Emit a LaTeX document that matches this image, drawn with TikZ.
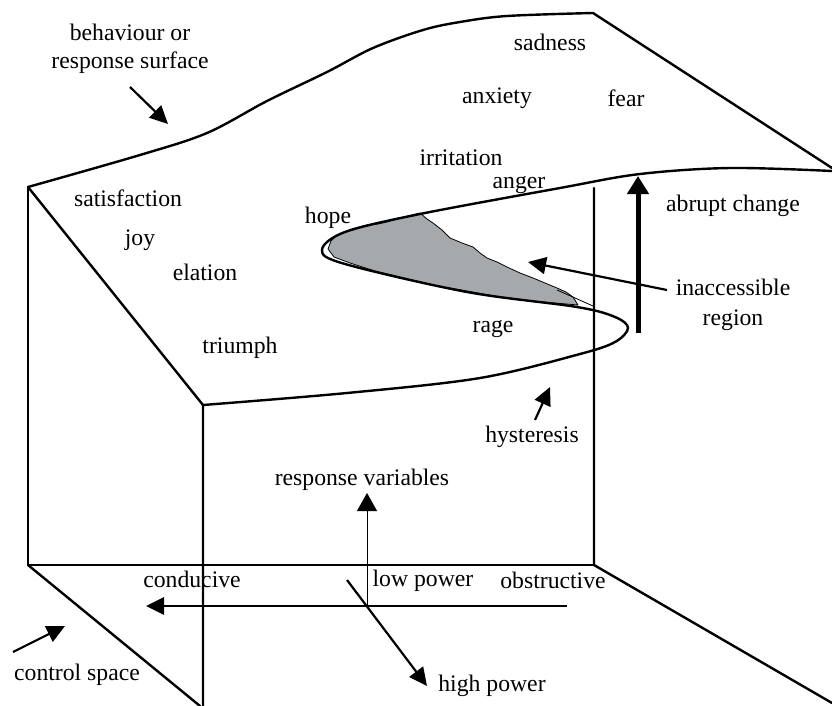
\documentclass[tikz,border=0pt]{standalone}
\usepackage{fontspec}
\setmainfont{Liberation Serif}
\usetikzlibrary{arrows.meta}
\definecolor{regiongray}{RGB}{166,169,172}
\begin{document}
\begin{tikzpicture}[x=1pt,y=-1pt,
  edge/.style={line width=2.4pt, line join=round, line cap=round},
  lbl/.style={font=\fontsize{23.7}{26}\selectfont, inner sep=0pt, text height=16.6pt, text depth=0pt},
  arr/.style={line width=2.2pt, -{Triangle[length=18pt,width=17pt]}},
  bigarr/.style={line width=5pt, -{Triangle[length=18pt,width=21pt]}},
  thinarr/.style={line width=0.9pt, -{Triangle[length=18pt,width=20pt]}},
]
\useasboundingbox (0,0) rectangle (832,706);

% inaccessible region
\filldraw[fill=regiongray, draw=black, line width=0.8pt, line join=round]
  (420,213) -- (427,219) -- (433,223) -- (442,230) -- (450,238) -- (462,243) -- (473,247)
  -- (480,253) -- (487,258) -- (497,262) -- (507,267) -- (520,273) -- (533,278)
  -- (545,283) -- (557,288) -- (566,292) -- (573,297) -- (578,305)
  -- (555,303) -- (533,301) -- (500,297) -- (467,291) -- (433,285) -- (400,277)
  -- (375,271) -- (350,263) -- (334,257) -- (328,249) -- (331,241) -- (337,235)
  -- (352,229) -- (367,225) -- (378,224) -- (387,222) -- (400,218) -- cycle;
\draw[line width=0.8pt] (557,290) -- (593,306);

% top surface
\draw[edge] plot[smooth, tension=0.55] coordinates {(28,187) (140,155) (207,133) (267,101) (327,72) (373,48) (423,30) (460,22) (507,16) (593,13)} -- (832,168);

% fold
\draw[edge] plot[smooth, tension=0.55] coordinates {(832,171) (730,168) (640,174) (560,188) (420,214) (345,232) (322,250) (345,264) (467,292) (577,307) (615,317) (628,328) (615,342) (580,354) (480,378) (347,393) (203,405)};

% box
\draw[edge] (28,187) -- (203,405) -- (203,706);
\draw[edge] (28,187) -- (28,565) -- (594,565);
\draw[edge] (594,188) -- (594,565) -- (832,703);
\draw[edge] (28,565) -- (200,706);

% labels
\node[lbl] (beh1) at (130,32) {behaviour or};
\node[lbl] (beh2) at (130,60) {response surface};
\node[lbl] (sad) at (550,42) {sadness};
\node[lbl] (anx) at (497,95) {anxiety};
\node[lbl] (fear) at (626,98) {fear};
\node[lbl] (irr) at (461,157) {irritation};
\node[lbl] (ang) at (519,180) {anger};
\node[lbl] (sat) at (128,198) {satisfaction};
\node[lbl] (joy) at (140,237) {joy};
\node[lbl] (ela) at (205,272) {elation};
\node[lbl] (hope) at (328,215) {hope};
\node[lbl] (tri) at (240,345) {triumph};
\node[lbl] (rage) at (493,324) {rage};
\node[lbl] (abr) at (733,203) {abrupt change};
\node[lbl] (ina1) at (733,287) {inaccessible};
\node[lbl] (ina2) at (733,317) {region};
\node[lbl] (hys) at (532,434) {hysteresis};
\node[lbl] (resp) at (362,477) {response variables};
\node[lbl] (cond) at (192,579) {conducive};
\node[lbl] (low) at (423,578) {low power};
\node[lbl] (obs) at (553,580) {obstructive};
\node[lbl] (ctrl) at (77,672) {control space};
\node[lbl] (high) at (492,683) {high power};

% arrow endpoints
\coordinate (behT) at (130,87);   \coordinate (behH) at (168,124);
\coordinate (inaT) at (667,290);  \coordinate (inaH) at (528,262);
\coordinate (abrT) at (638,333);  \coordinate (abrH) at (638,176);
\coordinate (hysT) at (535,420);  \coordinate (hysH) at (550,387);
\coordinate (respT) at (367,606); \coordinate (respH) at (367,493);
\coordinate (horT) at (567,606);  \coordinate (horH) at (146,606);
\coordinate (hpT) at (347,580);   \coordinate (hpH) at (427,686);
\coordinate (csT) at (13,652);    \coordinate (csH) at (65,626);

\draw[arr] (behT) -- (behH);
\draw[arr] (inaT) -- (inaH);
\draw[bigarr] (abrT) -- (abrH);
\draw[arr] (hysT) -- (hysH);
\draw[thinarr] (respT) -- (respH);
\draw[arr, line width=2.8pt] (horT) -- (horH);
\draw[arr] (hpT) -- (hpH);
\draw[arr] (csT) -- (csH);
\end{tikzpicture}
\end{document}
